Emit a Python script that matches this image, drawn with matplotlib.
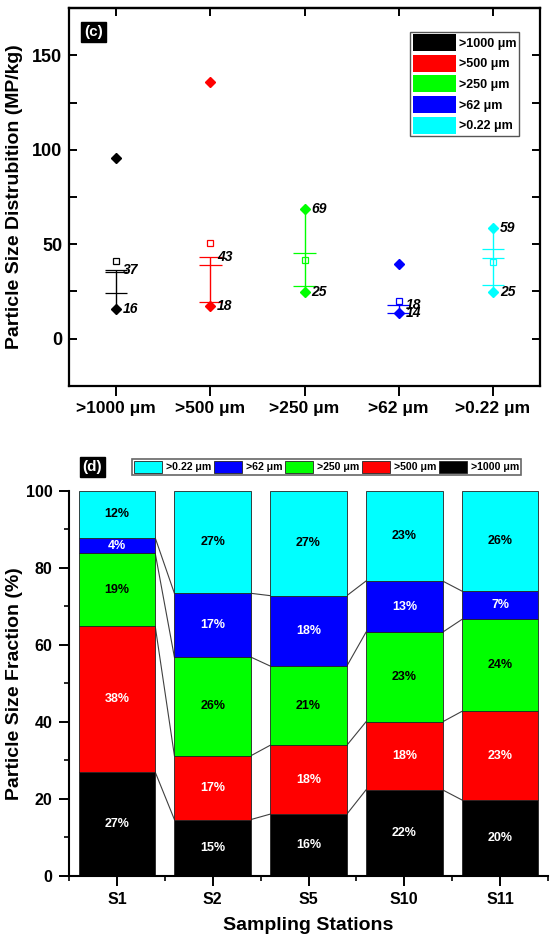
import numpy as np
import matplotlib
matplotlib.use('Agg')
import matplotlib.pyplot as plt
from matplotlib.patches import Patch
from matplotlib.ticker import MultipleLocator, FixedLocator

plt.rcParams['font.family'] = ['Liberation Sans', 'DejaVu Sans']
plt.rcParams['font.weight'] = 'bold'

# ---- data: panel (c)
size_classes = ['>1000 μm', '>500 μm', '>250 μm', '>62 μm', '>0.22 μm']
class_colors = ['#000000', '#ff0000', '#00ff00', '#0000ff', '#00ffff']
points = [[95.8, 15.5], [135.6, 17.5], [68.6, 24.5], [39.5, 13.4], [58.6, 24.5]]
means = [41.3, 50.4, 41.8, 20.1, 40.4]
whisker_hi = [36.5, 43.0, 68.6, 17.8, 58.6]
whisker_lo = [15.5, 17.5, 24.5, 13.4, 24.5]
box_lines = [[36.5, 35.1, 24.0], [43.0, 39.0, 19.2], [45.1, 27.9], [17.8, 13.4], [47.6, 42.7, 28.4]]
label_hi = [37, 43, 69, 18, 59]
label_lo = [16, 18, 25, 14, 25]

# ---- data: panel (d)  (% fractions per station, bottom -> top)
stations = ['S1', 'S2', 'S5', 'S10', 'S11']
frac_1000 = [26.9, 14.6, 16.0, 22.3, 19.7]
frac_500 = [37.9, 16.6, 17.9, 17.7, 23.0]
frac_250 = [19.0, 25.6, 20.6, 23.3, 23.9]
frac_62 = [4.0, 16.6, 18.3, 13.3, 7.4]
frac_022 = [12.2, 26.6, 27.2, 23.4, 26.0]

fig = plt.figure(figsize=(5.5, 9.43), dpi=100)

# ================= panel (c)
ax1 = fig.add_axes([0.1255, 0.5907, 0.8564, 0.4008])
xs = np.arange(1, len(size_classes) + 1)
for i, x in enumerate(xs):
    c = class_colors[i]
    ax1.vlines(x, whisker_lo[i], whisker_hi[i], color=c, lw=1.0)
    ax1.hlines(box_lines[i], x - 0.12, x + 0.12, color=c, lw=0.9)
    ax1.plot([x] * len(points[i]), points[i], 'D', color=c, ms=4.6, mec=c)
    ax1.plot(x, means[i], 's', mfc='none', mec=c, ms=5, mew=0.9)
    ax1.annotate(str(label_hi[i]), (x, whisker_hi[i]), xytext=(5, 0), textcoords='offset points',
                 ha='left', va='center', fontsize=10, style='italic', weight='bold')
    ax1.annotate(str(label_lo[i]), (x, whisker_lo[i]), xytext=(5, 0), textcoords='offset points',
                 ha='left', va='center', fontsize=10, style='italic', weight='bold')

ax1.set_xlim(0.5, 5.5)
ax1.set_ylim(-25, 175)
ax1.set_xticks(xs)
ax1.set_xticklabels(size_classes, fontsize=12.5, weight='bold')
ax1.set_yticks([0, 50, 100, 150])
ax1.yaxis.set_minor_locator(MultipleLocator(25))
ax1.tick_params(axis='y', which='both', direction='in', left=True, right=True, length=6, width=1.4,
                labelsize=13, pad=5)
ax1.tick_params(axis='x', direction='out', length=7, width=1.4, pad=4)
top = ax1.secondary_xaxis('top')
top.set_xticks(xs)
top.tick_params(direction='in', length=6, width=1.4, labeltop=False)
for s in ax1.spines.values():
    s.set_linewidth(1.6)
top.spines['top'].set_linewidth(1.6)
ax1.set_ylabel('Particle Size Distrubition (MP/kg)', fontsize=14, weight='bold')
ax1.yaxis.set_label_coords(-0.097, 0.5)

leg1 = fig.legend(handles=[Patch(facecolor=c, edgecolor='none') for c in class_colors],
                  labels=size_classes, loc='upper right', bbox_to_anchor=(0.9442, 0.9664),
                  prop={'size': 9, 'weight': 'bold'}, handlelength=3.45, handleheight=1.7,
                  labelspacing=0.3, handletextpad=0.27, borderpad=0.2, borderaxespad=0,
                  fancybox=False, framealpha=1)
leg1.get_frame().set_edgecolor('#555555')
leg1.get_frame().set_linewidth(1.0)

fig.text(0.1706, 0.9664, '(c)', color='white', fontsize=11, weight='bold', ha='center', va='center',
         bbox=dict(boxstyle='square,pad=0.2', facecolor='black', edgecolor='black'))

# ================= panel (d)
ax2 = fig.add_axes([0.1255, 0.0714, 0.8709, 0.4079])
layers = [frac_1000, frac_500, frac_250, frac_62, frac_022]
text_colors = ['white', 'white', 'black', 'white', 'black']
pos = np.arange(len(stations))
w = 0.8
bottom = np.zeros(len(stations))
cums = [bottom.copy()]
for k, vals in enumerate(layers):
    vals = np.array(vals)
    ax2.bar(pos, vals, w, bottom=bottom, color=class_colors[k], edgecolor='#222222', lw=0.6, zorder=2)
    for j in range(len(stations)):
        ax2.text(pos[j], bottom[j] + vals[j] / 2, f'{vals[j]:.0f}%', ha='center', va='center',
                 color=text_colors[k], fontsize=9, weight='bold', zorder=3)
    bottom = bottom + vals
    cums.append(bottom.copy())

# connecting lines between the stacked boundaries
for lev in cums[1:-1]:
    for j in range(len(stations) - 1):
        ax2.plot([pos[j] + w / 2, pos[j + 1] - w / 2], [lev[j], lev[j + 1]], color='#404040', lw=0.8, zorder=1)

ax2.set_xlim(-0.5, 4.5)
ax2.set_ylim(0, 100)
ax2.set_xticks(pos)
ax2.set_xticklabels(stations, fontsize=11.5, weight='bold')
ax2.xaxis.set_minor_locator(FixedLocator(np.arange(-0.5, 5, 1)))
ax2.set_yticks(np.arange(0, 101, 20))
ax2.yaxis.set_minor_locator(MultipleLocator(10))
ax2.tick_params(axis='both', which='major', direction='out', length=7, width=1.4, labelsize=11.5, pad=5)
ax2.tick_params(axis='both', which='minor', direction='out', length=3.5, width=1.2)
ax2.spines['top'].set_visible(False)
ax2.spines['right'].set_visible(False)
ax2.spines['left'].set_linewidth(1.5)
ax2.spines['bottom'].set_linewidth(1.5)
ax2.set_ylabel('Particle Size Fraction (%)', fontsize=14, weight='bold')
ax2.yaxis.set_label_coords(-0.096, 0.5)
ax2.set_xlabel('Sampling Stations', fontsize=14, weight='bold')
ax2.xaxis.set_label_coords(0.5, -0.108)

order = [4, 3, 2, 1, 0]
leg2 = fig.legend(handles=[Patch(facecolor=class_colors[k], edgecolor='#222222', lw=0.6) for k in order],
                  labels=[size_classes[k] for k in order], loc='center', ncol=5,
                  bbox_to_anchor=(0.594, 0.5051), prop={'size': 7.6, 'weight': 'bold'},
                  handlelength=2.65, handleheight=1.32, handletextpad=0.34, columnspacing=0.3,
                  borderpad=0.2, borderaxespad=0, fancybox=False, framealpha=1)
leg2.get_frame().set_edgecolor('#666666')
leg2.get_frame().set_linewidth(1.2)

fig.text(0.1682, 0.5048, '(d)', color='white', fontsize=11, weight='bold', ha='center', va='center',
         bbox=dict(boxstyle='square,pad=0.2', facecolor='black', edgecolor='black'))

fig.savefig('out.png', dpi=100)
